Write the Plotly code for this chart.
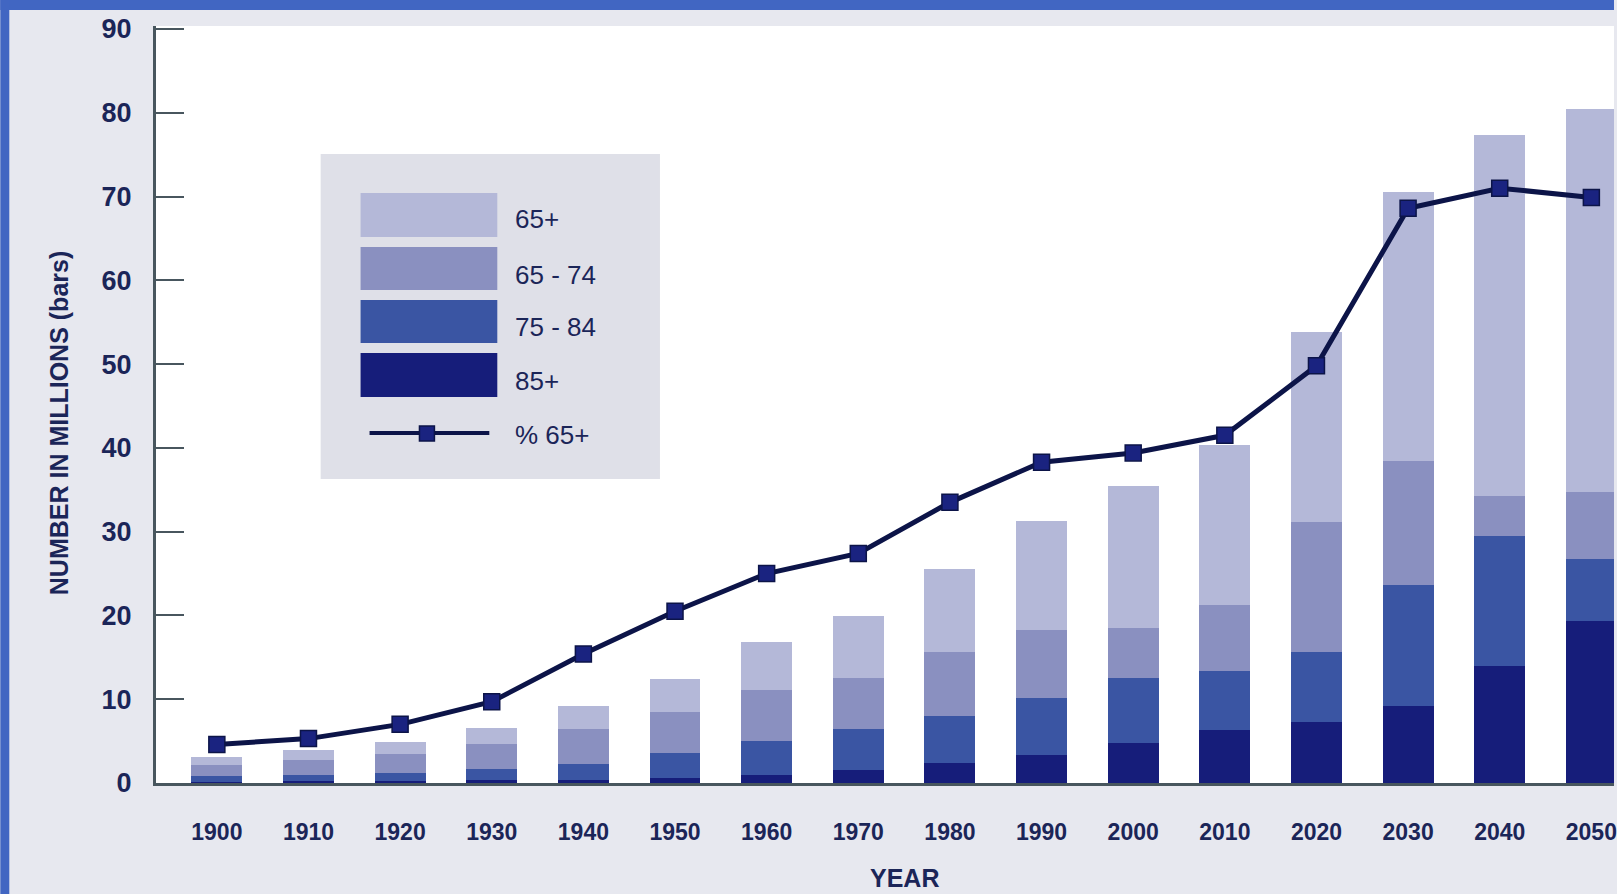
import plotly.graph_objects as go

# ---------------- data ----------------
years = [1900, 1910, 1920, 1930, 1940, 1950, 1960, 1970, 1980, 1990,
         2000, 2010, 2020, 2030, 2040, 2050]
tick_labels = [str(y) for y in years]

age_65_plus = [3.1, 3.9, 4.9, 6.6, 9.2, 12.4, 16.8, 19.9, 25.6, 31.3,
               35.4, 40.3, 53.8, 70.5, 77.4, 80.5]
age_65_74 = [2.2, 2.8, 3.5, 4.7, 6.5, 8.5, 11.1, 12.5, 15.6, 18.3,
             18.5, 21.3, 31.1, 38.4, 34.3, 34.7]
age_75_84 = [0.8, 0.9, 1.2, 1.7, 2.3, 3.6, 5.0, 6.4, 8.0, 10.2,
             12.5, 13.4, 15.6, 23.6, 29.5, 26.7]
age_85_plus = [0.1, 0.2, 0.2, 0.3, 0.4, 0.6, 0.9, 1.5, 2.4, 3.4,
               4.8, 6.3, 7.3, 9.2, 14.0, 19.3]
pct_65_plus_plotted = [4.6, 5.3, 7.0, 9.7, 15.4, 20.5, 25.0, 27.4, 33.5, 38.3,
                       39.4, 41.5, 49.8, 68.6, 71.0, 69.9]

series_names = ["65+", "65 - 74", "75 - 84", "85+"]
line_name = "% 65+"

# ---------------- style ----------------
colors = ["#b4b8d8", "#8a90c0", "#3a55a3", "#161d7a"]
line_color = "#0c1448"
marker_color = "#1a2380"
text_color = "#1b2558"
axis_color = "#48565e"
paper_bg = "#e7e8ef"
legend_bg = "#dfe0e8"
frame_blue = "#4166c2"
FONT = "Liberation Sans, Arial, sans-serif"

W_PX, H_PX = 1617, 894
L, R, T, B = 156, 0, 26, 111
PW, PH = W_PX - L - R, H_PX - T - B


def px(x):
    return (x - L) / PW


def py(y):
    return 1 - (y - T) / PH


fig = go.Figure()

series_values = [age_65_plus, age_65_74, age_75_84, age_85_plus]
for name, vals, col in zip(series_names, series_values, colors):
    fig.add_trace(go.Bar(
        x=years, y=vals, name=name, width=5.55,
        marker=dict(color=col, line=dict(width=0)),
        showlegend=False,
    ))

fig.add_trace(go.Scatter(
    x=years, y=pct_65_plus_plotted, name=line_name, mode="lines+markers",
    line=dict(color=line_color, width=5),
    marker=dict(symbol="square", size=16, color=marker_color,
                line=dict(color=line_color, width=1.5)),
    cliponaxis=False,
    showlegend=False,
))

# ---------------- manual legend & frame ----------------
shapes = []
annotations = []

# blue frame strips (top and left)
shapes.append(dict(type="rect", xref="paper", yref="paper",
                   x0=px(0), x1=px(W_PX), y0=py(10), y1=py(0),
                   fillcolor=frame_blue, line=dict(width=0), layer="above"))
shapes.append(dict(type="rect", xref="paper", yref="paper",
                   x0=px(0), x1=px(9), y0=py(H_PX), y1=py(0),
                   fillcolor=frame_blue, line=dict(width=0), layer="above"))

# legend box
shapes.append(dict(type="rect", xref="paper", yref="paper",
                   x0=px(321), x1=px(661), y0=py(479), y1=py(154),
                   fillcolor=legend_bg, line=dict(width=0), layer="above"))

swatch_rows = [(193, 237), (247, 290), (300, 343), (353, 397)]
text_rows = [219, 275, 327, 381]
for (y0, y1), ty, name, col in zip(swatch_rows, text_rows, series_names, colors):
    shapes.append(dict(type="rect", xref="paper", yref="paper",
                       x0=px(361), x1=px(498), y0=py(y1), y1=py(y0),
                       fillcolor=col, line=dict(width=0), layer="above"))
    annotations.append(dict(x=px(514), y=py(ty), xref="paper", yref="paper",
                            text=name, showarrow=False, xanchor="left",
                            yanchor="middle",
                            font=dict(family=FONT, size=26, color=text_color)))

# line legend entry
shapes.append(dict(type="line", xref="paper", yref="paper",
                   x0=px(370), x1=px(490), y0=py(433), y1=py(433),
                   line=dict(color=line_color, width=4), layer="above"))
shapes.append(dict(type="rect", xref="paper", yref="paper",
                   x0=px(420), x1=px(435), y0=py(441), y1=py(426),
                   fillcolor=marker_color, line=dict(color=line_color, width=1.5),
                   layer="above"))
annotations.append(dict(x=px(514), y=py(435), xref="paper", yref="paper",
                        text=line_name, showarrow=False, xanchor="left",
                        yanchor="middle",
                        font=dict(family=FONT, size=26, color=text_color)))

# axis titles as annotations
annotations.append(dict(x=px(59), y=py(423), xref="paper", yref="paper",
                        text="<b>NUMBER IN MILLIONS (bars)</b>", showarrow=False,
                        textangle=-90, xanchor="center", yanchor="middle",
                        font=dict(family=FONT, size=25, color=text_color)))
annotations.append(dict(x=px(906), y=py(878), xref="paper", yref="paper",
                        text="<b>YEAR</b>", showarrow=False,
                        xanchor="center", yanchor="middle",
                        font=dict(family=FONT, size=25, color=text_color)))

fig.update_layout(
    width=W_PX, height=H_PX,
    margin=dict(l=L, r=R, t=T, b=B, pad=0),
    paper_bgcolor=paper_bg,
    plot_bgcolor="white",
    barmode="overlay",
    bargap=0,
    shapes=shapes,
    annotations=annotations,
    showlegend=False,
    xaxis=dict(
        range=[1893.36, 2052.47],
        tickmode="array", tickvals=years, ticktext=tick_labels,
        showgrid=False, zeroline=False,
        showline=True, linecolor=axis_color, linewidth=3,
        ticks="", ticklabelstandoff=26, ticklabeloverflow="allow",
        tickfont=dict(family=FONT, size=23, color=text_color, weight="bold"),
    ),
    yaxis=dict(
        range=[0, 90.36],
        tickmode="array", tickvals=list(range(0, 91, 10)),
        showgrid=False, zeroline=False,
        showline=True, linecolor=axis_color, linewidth=3,
        ticks="inside", ticklen=28, tickwidth=2, tickcolor=axis_color,
        ticklabelstandoff=16,
        tickfont=dict(family=FONT, size=27, color=text_color, weight="bold"),
    ),
)

fig.write_html(
    "out.html",
    config={"displayModeBar": False},
    post_script=(
        "document.body.style.margin='0';"
        "document.body.style.overflow='hidden';"
        "document.body.style.background='" + paper_bg + "';"
        "document.documentElement.style.background='" + paper_bg + "';"
    ),
)
